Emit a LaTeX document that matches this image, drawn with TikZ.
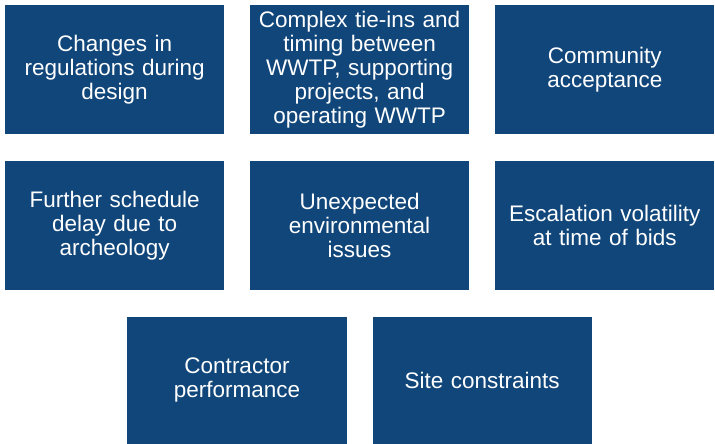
\documentclass[tikz,border=0pt]{standalone}
\usepackage{fontspec}
\setmainfont{Liberation Sans}
\definecolor{boxblue}{RGB}{17,70,122}
\begin{document}
\begin{tikzpicture}[x=1pt,y=1pt,
  riskbox/.style={fill=boxblue, draw=none, minimum width=219.3pt, minimum height=129.3pt,
    text=white, align=center, inner sep=0pt, text width=218pt,
    font=\fontsize{22.5}{24}\selectfont}]
\useasboundingbox[fill=white] (0,0) rectangle (715,444);
\node[riskbox] (a) at (114.6,374.3) {Changes in\\regulations during\\design};
\node[riskbox] (b) at (359.6,374.3) {Complex tie-ins and\\timing between\\WWTP, supporting\\projects, and\\operating WWTP};
\node[riskbox] (c) at (604.8,374.3) {Community\\acceptance};
\node[riskbox] (d) at (114.6,218.3) {Further schedule\\delay due to\\archeology};
\node[riskbox] (e) at (359.6,218.3) {Unexpected\\environmental\\issues};
\node[riskbox] (f) at (604.8,218.3) {Escalation volatility\\at time of bids};
\node[riskbox, minimum height=127.3pt] (g) at (237.0,63.6) {Contractor\\performance};
\node[riskbox, minimum height=127.3pt] (h) at (482.2,63.6) {Site constraints};
\end{tikzpicture}
\end{document}
